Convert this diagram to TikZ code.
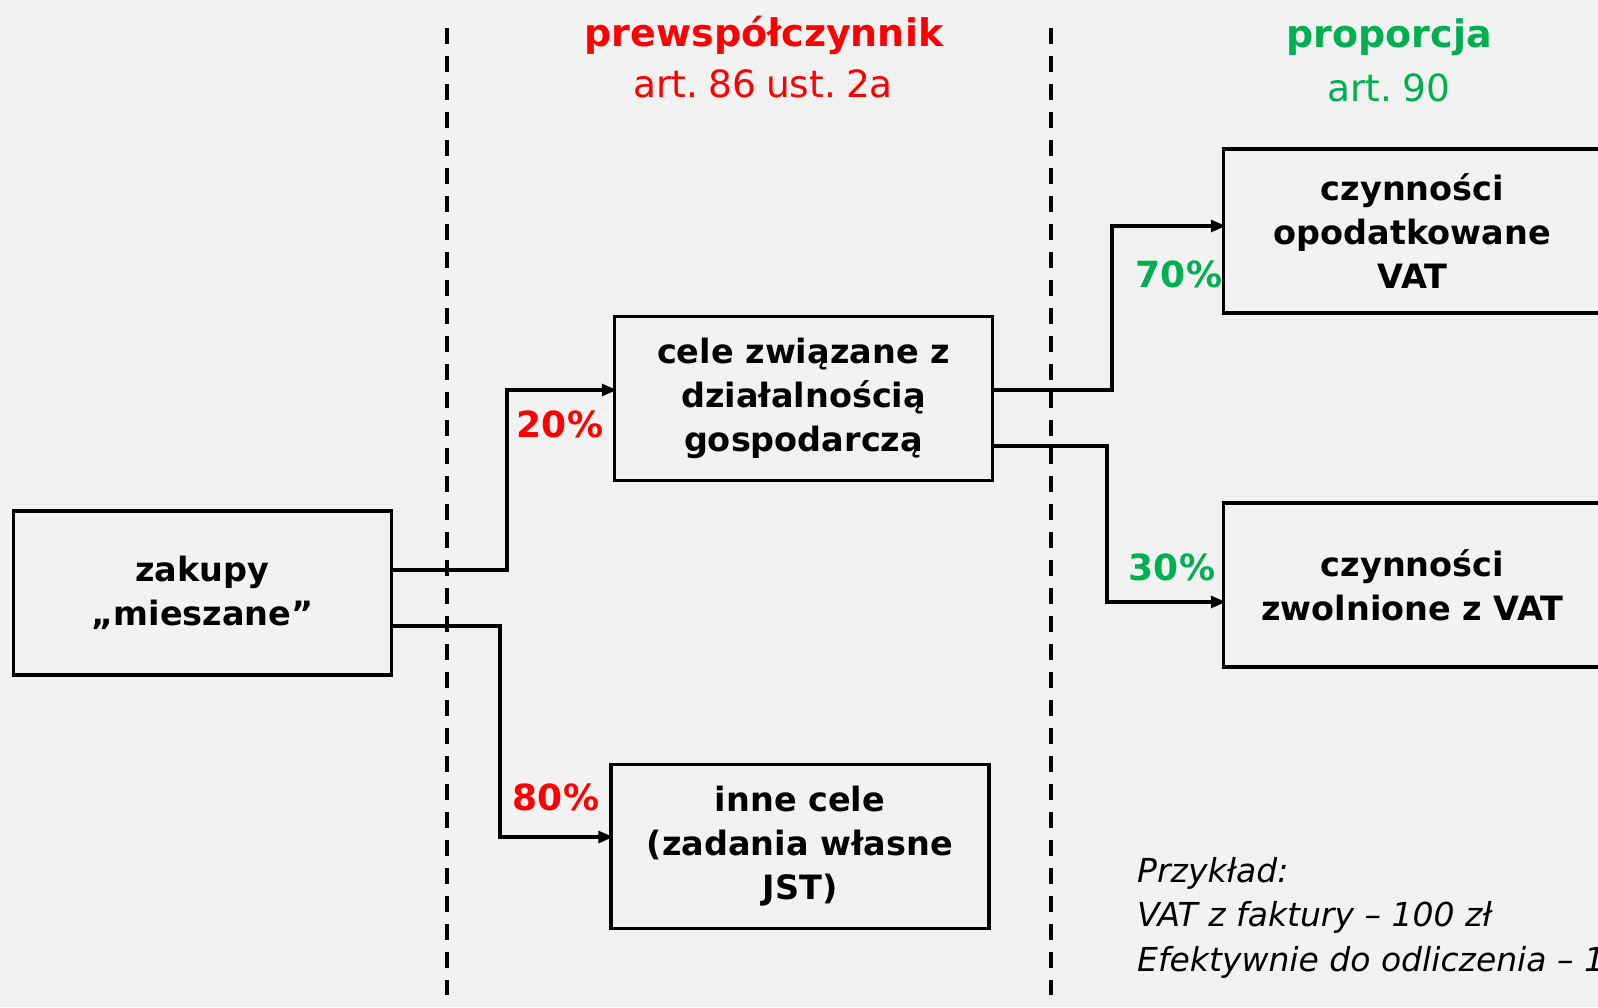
\documentclass[tikz,border=0pt]{standalone}
\usepackage{fontspec}
\setmainfont{DejaVu Sans}
\newfontfamily\hregfont[WordSpace=0.85]{DejaVu Sans}
\usetikzlibrary{arrows.meta}
\definecolor{bg}{HTML}{F2F2F2}
\definecolor{pred}{HTML}{FF0000}
\definecolor{pgreen}{HTML}{00B050}
\frenchspacing
\tikzset{
  box/.style={draw=black, line width=3.5pt, minimum width=378pt, minimum height=164pt,
    align=center, font=\fontsize{33.5}{44}\selectfont\bfseries, inner sep=0pt},
  conn/.style={line width=3.2pt, -{Triangle[length=15pt,width=12pt]}, shorten >=-4pt},
  divider/.style={line width=4pt, dash pattern=on 16pt off 12pt},
  pct/.style={font=\fontsize{36}{40}\selectfont\bfseries, inner sep=0pt},
  hbold/.style={font=\fontsize{38}{44}\selectfont\bfseries, inner sep=0pt},
  hreg/.style={font=\hregfont\fontsize{37.5}{44}\selectfont, inner sep=0pt},
  note/.style={font=\fontsize{33}{44.5}\selectfont\itshape, align=left, inner sep=0pt, anchor=north west}
}
\begin{document}
\begin{tikzpicture}[x=1pt,y=-1pt]
\useasboundingbox (0,0) rectangle (1598,1007);
\fill[bg] (0,0) rectangle (1598,1007);
\clip (0,0) rectangle (1598,1007);

% dividers
\coordinate (d1t) at (446.5,28);
\coordinate (d1b) at (446.5,995);
\coordinate (d2t) at (1050.5,28);
\coordinate (d2b) at (1050.5,995);
\draw[divider] (d1t) -- (d1b);
\draw[divider] (d2t) -- (d2b);

% headers
\node[hbold, text=pred] (h1) at (764,35) {prewspółczynnik};
\node[hreg, text=pred] (h1b) at (763,84) {art. 86 ust. 2a};
\node[hbold, text=pgreen] (h2) at (1389,37) {proporcja};
\node[hreg, text=pgreen] (h2b) at (1389,88) {art. 90};

% boxes
\node[box] (zak) at (202.5,593) {zakupy\\„mieszane”};
\node[box] (cele) at (803.5,398.5) {cele związane z\\działalnością\\gospodarczą};
\node[box] (inne) at (800,846.5) {inne cele\\(zadania własne\\JST)};
\node[box] (opod) at (1412.5,231) {czynności\\opodatkowane\\VAT};
\node[box] (zwol) at (1412.5,585) {czynności\\zwolnione z VAT};

% connectors
\draw[conn] (zak.east |- 0,570) -- (507,570) -- (507,390) -- (cele.west |- 0,390);
\draw[conn] (zak.east |- 0,626) -- (500,626) -- (500,837) -- (inne.west |- 0,837);
\draw[conn] (cele.east |- 0,390) -- (1112,390) -- (1112,226) -- (opod.west |- 0,226);
\draw[conn] (cele.east |- 0,446) -- (1107,446) -- (1107,602) -- (zwol.west |- 0,602);

% percent labels
\node[pct, text=pred] (p20) at (560,424) {20\%};
\node[pct, text=pred] (p80) at (556,797) {80\%};
\node[pct, text=pgreen] (p70) at (1179,274) {70\%};
\node[pct, text=pgreen] (p30) at (1172,567) {30\%};

% example note
\node[note] (ex) at (1137,857) {Przykład:\\VAT z faktury – 100 zł\\Efektywnie do odliczenia – 1};
\end{tikzpicture}
\end{document}
